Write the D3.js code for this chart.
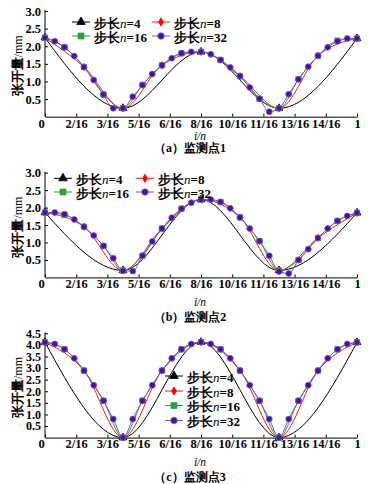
<!DOCTYPE html>
<html><head><meta charset="utf-8">
<script src="https://cdn.jsdelivr.net/npm/d3@7"></script>
<style>body{margin:0;background:#fff}
.sf{font-family:"Liberation Serif","Times New Roman",serif;}
</style>
</head><body>
<svg id="c" width="368" height="484" xmlns="http://www.w3.org/2000/svg"></svg>
<script>
// ---------- data ----------
const xTickValues = [0, 0.1, 0.2, 0.3, 0.4, 0.5, 0.6, 0.7, 0.8, 0.9, 1];
const xTickLabels = ["0", "2/16", "3/16", "5/16", "6/16", "8/16", "10/16", "11/16", "13/16", "14/16", "1"];
const stepNames = ["4", "8", "16", "32"];
const captions = ["（a）监测点1", "（b）监测点2", "（c）监测点3"];
const yTicksA = [0.5, 1.0, 1.5, 2.0, 2.5, 3.0];
const yTicksB = [0.5, 1.0, 1.5, 2.0, 2.5, 3.0];
const yTicksC = [0.5, 1.0, 1.5, 2.0, 2.5, 3.0, 3.5, 4.0, 4.5];

// monitoring point 1
const a_n4 = [2.24, 0.24, 1.84, 0.24, 2.22];
const a_n8 = [2.24, 1.41, 0.24, 1.46, 1.84, 1.15, 0.24, 1.73, 2.22];
const a_n16 = [2.24, 1.97, 1.41, 0.63, 0.24, 0.90, 1.46, 1.80, 1.84, 1.61, 1.15, 0.51, 0.24, 1.06, 1.73, 2.16, 2.22];
const a_n32 = [2.24, 2.14, 1.97, 1.72, 1.41, 1.04, 0.63, 0.24, 0.24, 0.57, 0.90, 1.21, 1.46, 1.66, 1.80, 1.84, 1.84,
               1.77, 1.61, 1.40, 1.15, 0.83, 0.51, 0.14, 0.24, 0.64, 1.06, 1.42, 1.73, 1.97, 2.14, 2.22, 2.22];
// monitoring point 2
const b_n4 = [1.86, 0.20, 2.23, 0.20, 1.85];
const b_n8 = [1.86, 1.45, 0.20, 1.40, 2.23, 1.72, 0.20, 1.13, 1.85];
const b_n16 = [1.86, 1.79, 1.45, 0.90, 0.20, 0.62, 1.40, 1.97, 2.23, 2.16, 1.72, 1.04, 0.20, 0.50, 1.13, 1.62, 1.85];
const b_n32 = [1.86, 1.86, 1.81, 1.66, 1.45, 1.20, 0.90, 0.55, 0.19, 0.18, 0.62, 1.03, 1.40, 1.71, 1.97, 2.14, 2.23,
               2.23, 2.16, 1.98, 1.72, 1.40, 1.04, 0.62, 0.17, 0.11, 0.50, 0.81, 1.13, 1.40, 1.62, 1.76, 1.85];
// monitoring point 3
const c_n4 = [4.11, 0.0, 4.12, 0.0, 4.11];
const c_n8 = [4.11, 2.89, 0.0, 2.89, 4.12, 2.89, 0.0, 2.89, 4.11];
const c_n16 = [4.11, 3.81, 2.89, 1.59, 0.0, 1.59, 2.89, 3.81, 4.12, 3.81, 2.89, 1.59, 0.0, 1.59, 2.89, 3.81, 4.11];
const c_n32 = [4.11, 4.04, 3.81, 3.42, 2.89, 2.26, 1.59, 0.80, 0.0, 0.80, 1.59, 2.26, 2.89, 3.42, 3.81, 4.04, 4.12,
               4.04, 3.81, 3.42, 2.89, 2.26, 1.59, 0.80, 0.0, 0.80, 1.59, 2.26, 2.89, 3.42, 3.81, 4.04, 4.11];

// ---------- styles / layout ----------
const styles = [
  {line: "#000000", fill: "#000000", stroke: "#000000", sym: d3.symbolTriangle, size: 26},
  {line: "#ff1a1a", fill: "#ff0000", stroke: "#ff0000", sym: d3.symbolDiamond, size: 14},
  {line: "#22a23c", fill: "#1fa83a", stroke: "#1c8a35", sym: d3.symbolSquare, size: 27},
  {line: "#7058c8", fill: "#4a1298", stroke: "#7a64cc", sym: d3.symbolCircle, size: 28}
];

const panels = [
  {series: [a_n4, a_n8, a_n16, a_n32], ymax: 3.0, ticks: yTicksA, y0: 116.7, y1: 11.0, yfs: 12.5,
   legend: {type: "grid", rows: [22, 36], cols: [72, 152]}, xt: 136, cap: 147},
  {series: [b_n4, b_n8, b_n16, b_n32], ymax: 3.0, ticks: yTicksB, y0: 277.4, y1: 172.7, yfs: 12.5,
   legend: {type: "grid", rows: [178.3, 192], cols: [54, 136]}, xt: 301.7, cap: 316},
  {series: [c_n4, c_n8, c_n16, c_n32], ymax: 4.5, ticks: yTicksC, y0: 437.6, y1: 333.3, yfs: 12,
   legend: {type: "col", rows: [376, 391, 405.5, 420.5], cols: [165]}, xt: 461.7, cap: 476}
];

const svg = d3.select("#c");
svg.append("rect").attr("width", 368).attr("height", 484).attr("fill", "#fff");
const x = d3.scaleLinear().domain([0, 1]).range([45, 357]);

function legendLabel(g, name) {
  const t = g.append("text").attr("class", "sf").attr("dy", "0.35em").attr("fill", "#000")
    .style("font-weight", 700);
  t.append("tspan").style("font-size", "12.5px").text("步长");
  t.append("tspan").style("font-style", "italic").style("font-weight", 400).style("font-size", "13px").text("n");
  t.append("tspan").style("font-size", "13px").text("=" + name);
}

panels.forEach((p, pi) => {
  const y = d3.scaleLinear().domain([0, p.ymax]).range([p.y0, p.y1]);
  const g = svg.append("g");

  // axes
  const xa = g.append("g").attr("transform", `translate(0,${p.y0})`)
    .call(d3.axisBottom(x).tickValues(xTickValues).tickFormat((d, i) => xTickLabels[i])
      .tickSizeInner(-3).tickSizeOuter(0).tickPadding(2));
  const ya = g.append("g").attr("transform", `translate(45,0)`)
    .call(d3.axisLeft(y).tickValues(p.ticks).tickFormat(d3.format(".1f"))
      .tickSizeInner(-3).tickSizeOuter(0).tickPadding(4));
  [xa, ya].forEach(a => {
    a.attr("font-family", null).attr("font-size", null);
    a.select(".domain").attr("stroke", "#000").attr("stroke-width", 1);
    a.selectAll(".tick line").attr("stroke", "#000").attr("stroke-width", 1);
    a.selectAll("text").attr("class", "sf").style("font-weight", 700)
      .style("font-size", "12.5px").attr("fill", "#000");
  });
  ya.selectAll("text").style("font-size", p.yfs + "px");
  ya.select(".domain").attr("d", `M0,${p.y0}V${p.y1 - 1}`);
  xa.selectAll(".tick text").filter((d, i) => i === 0).attr("dx", -4);

  // series
  p.series.forEach((vals, si) => {
    const n = vals.length - 1;
    const pts = vals.map((v, i) => [i / n, v]);
    const st = styles[si];
    g.append("path").datum(pts)
      .attr("fill", "none").attr("stroke", st.line).attr("stroke-width", 1)
      .attr("d", d3.line().x(d => x(d[0])).y(d => y(d[1])).curve(d3.curveMonotoneX));
    g.selectAll(null).data(pts).enter().append("path")
      .attr("transform", d => `translate(${x(d[0])},${y(d[1])})`)
      .attr("d", d3.symbol().type(st.sym).size(st.size))
      .attr("fill", st.fill).attr("stroke", st.stroke).attr("stroke-width", 0.8);
  });

  // legend
  stepNames.forEach((name, si) => {
    let lx, ly;
    if (p.legend.type === "grid") {
      lx = p.legend.cols[si % 2]; ly = p.legend.rows[Math.floor(si / 2)];
    } else {
      lx = p.legend.cols[0]; ly = p.legend.rows[si];
    }
    const st = styles[si];
    const lg = g.append("g").attr("transform", `translate(${lx},${ly})`);
    lg.append("line").attr("x1", 0).attr("x2", 18).attr("y1", 0).attr("y2", 0)
      .attr("stroke", st.line).attr("stroke-width", 1);
    lg.append("path").attr("transform", "translate(9,0)")
      .attr("d", d3.symbol().type(st.sym).size(st.size + 6))
      .attr("fill", st.fill).attr("stroke", st.stroke).attr("stroke-width", 0.8);
    const tg = lg.append("g").attr("transform", "translate(22,0)");
    legendLabel(tg, name);
  });

  // y title
  const yc = (p.y0 + p.y1) / 2 + 2;
  const yt = g.append("text").attr("class", "sf").attr("transform", `translate(16,${yc}) rotate(-90)`)
    .attr("dy", "0.35em").attr("text-anchor", "middle").attr("fill", "#000");
  yt.append("tspan").style("font-weight", 700).style("font-size", "13px").text("张开量");
  yt.append("tspan").style("font-size", "12px").text("/mm");

  // x title
  g.append("text").attr("x", 200).attr("y", p.xt).attr("dy", "0.35em").attr("text-anchor", "middle")
    .attr("class", "sf").style("font-style", "italic").style("font-size", "11.5px").text("i/n");

  // caption
  g.append("text").attr("x", 190).attr("y", p.cap).attr("dy", "0.38em").attr("text-anchor", "middle")
    .attr("class", "sf").style("font-weight", 700).style("font-size", "12px").text(captions[pi]);
});
</script>
</body></html>
